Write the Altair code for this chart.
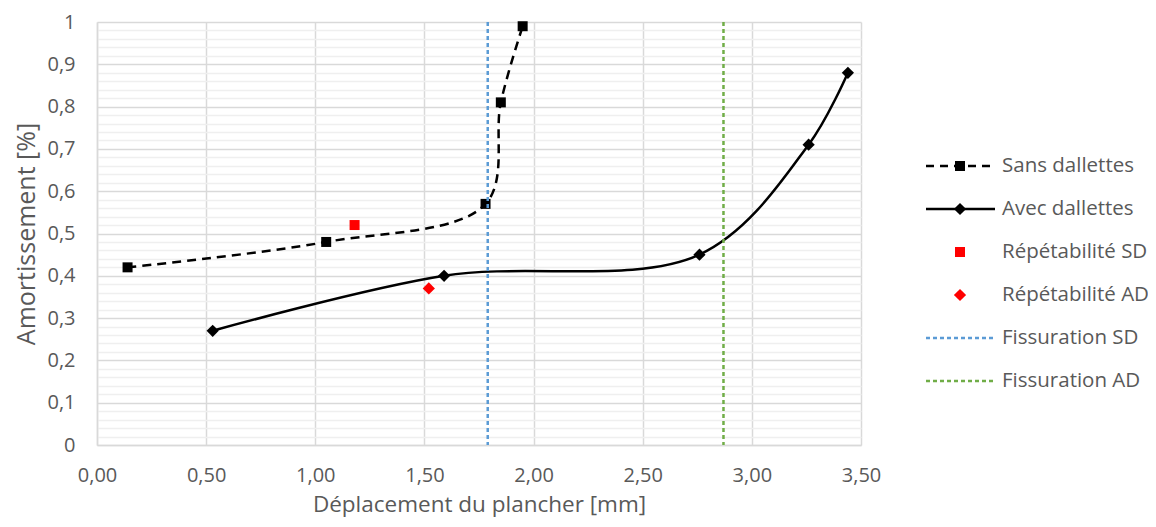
import altair as alt
import pandas as pd

# ---- data ----
sans_x = [0.14, 1.05, 1.78, 1.85, 1.95]
sans_y = [0.42, 0.48, 0.57, 0.81, 0.99]
avec_x = [0.53, 1.59, 2.76, 3.26, 3.44]
avec_y = [0.27, 0.40, 0.45, 0.71, 0.88]
rep_sd_x = [1.18]
rep_sd_y = [0.52]
rep_ad_x = [1.52]
rep_ad_y = [0.37]
fiss_sd_x = [1.79]
fiss_ad_x = [2.87]

x_ticks = [0.0, 0.5, 1.0, 1.5, 2.0, 2.5, 3.0, 3.5]
y_ticks = [0.0, 0.1, 0.2, 0.3, 0.4, 0.5, 0.6, 0.7, 0.8, 0.9, 1.0]
y_minor = [round(i * 0.02, 2) for i in range(51) if i % 5]

legend_labels = ["Sans dallettes", "Avec dallettes", "Répétabilité SD",
                 "Répétabilité AD", "Fissuration SD", "Fissuration AD"]

FONT = "Open Sans"
TXT = "#595959"
GRID = "#d9d9d9"
MINOR = "#efefef"
BLUE = "#5B9BD5"
GREEN = "#70AD47"
RED = "#FF0000"

sans = pd.DataFrame({"x": sans_x, "y": sans_y})
avec = pd.DataFrame({"x": avec_x, "y": avec_y})
rsd = pd.DataFrame({"x": rep_sd_x, "y": rep_sd_y})
rad = pd.DataFrame({"x": rep_ad_x, "y": rep_ad_y})
fsd = pd.DataFrame({"x": fiss_sd_x})
fad = pd.DataFrame({"x": fiss_ad_x})

xs = alt.Scale(domain=[0, 3.5], nice=False, zero=False)
ys = alt.Scale(domain=[0, 1], nice=False)

x_axis = alt.Axis(values=x_ticks, title="Déplacement du plancher [mm]",
                  labelExpr="replace(format(datum.value, '.2f'), '.', ',')",
                  grid=True, gridColor=GRID, gridWidth=1.5, ticks=False,
                  domainColor=GRID, domainWidth=1.5, labelPadding=20,
                  labelFlush=False, labelOverlap=False,
                  titleFontSize=22.5, titlePadding=8)
y_axis = alt.Axis(values=y_ticks, title="Amortissement [%]",
                  labelExpr="replace(format(datum.value, '.1~f'), '.', ',')",
                  grid=True, gridColor=GRID, gridWidth=1.5, ticks=False,
                  domainColor=GRID, domainWidth=1.5, labelPadding=22,
                  labelFlush=False, labelOverlap=False,
                  titleFontSize=25, titlePadding=7)
y_minor_axis = alt.Axis(values=y_minor, grid=True, gridColor=MINOR, gridWidth=1.5,
                        labels=False, ticks=False, domain=False, title=None,
                        orient="right")

X = alt.X("x:Q", scale=xs, axis=x_axis)
Y = alt.Y("y:Q", scale=ys, axis=y_axis)

# minor horizontal grid (drawn first, behind everything)
minor = alt.Chart(sans).mark_point(opacity=0).encode(
    y=alt.Y("y:Q", scale=ys, axis=y_minor_axis))

sans_line = alt.Chart(sans).mark_line(
    interpolate="catmull-rom", color="black", strokeWidth=2.5, strokeDash=[9, 6]
).encode(x=X, y=Y)
sans_pts = alt.Chart(sans).mark_point(shape="square", filled=True, size=100,
                                       color="black", opacity=1).encode(x=X, y=Y)
avec_line = alt.Chart(avec).mark_line(
    interpolate="catmull-rom", color="black", strokeWidth=2.5
).encode(x=X, y=Y)
avec_pts = alt.Chart(avec).mark_point(shape="diamond", filled=True, size=150,
                                       color="black", opacity=1).encode(x=X, y=Y)
rsd_pts = alt.Chart(rsd).mark_point(shape="square", filled=True, size=100,
                                     color=RED, opacity=1).encode(x=X, y=Y)
rad_pts = alt.Chart(rad).mark_point(shape="diamond", filled=True, size=150,
                                     color=RED, opacity=1).encode(x=X, y=Y)
fsd_rule = alt.Chart(fsd).mark_rule(color=BLUE, strokeWidth=2.5, strokeDash=[4, 3]).encode(x=X)
fad_rule = alt.Chart(fad).mark_rule(color=GREEN, strokeWidth=2.5, strokeDash=[4, 3]).encode(x=X)

main = alt.layer(sans_line, avec_line, sans_pts, avec_pts, rsd_pts,
                 rad_pts, fsd_rule, fad_rule)

# ---- manual legend ----
leg = pd.DataFrame({"label": legend_labels})
ls = alt.Scale(domain=legend_labels, type="point", range=[144, 359], padding=0)
LY = alt.Y("label:N", scale=ls, axis=None)

def leg_rule(name, color, dash=None):
    kw = dict(color=color, strokeWidth=2.5)
    if dash:
        kw["strokeDash"] = dash
    return alt.Chart(leg).transform_filter(alt.datum.label == name).mark_rule(**kw).encode(
        x=alt.value(829), x2=alt.value(898), y=LY)

def leg_pt(name, shape, color, size):
    return alt.Chart(leg).transform_filter(alt.datum.label == name).mark_point(
        shape=shape, filled=True, size=size, color=color, opacity=1).encode(
        x=alt.value(863), y=LY)

leg_text = alt.Chart(leg).mark_text(align="left", baseline="middle", font=FONT,
                                    fontSize=20.5, color=TXT).encode(
    x=alt.value(905), y=LY, text="label:N")

legend = alt.layer(
    leg_rule("Sans dallettes", "black", [8, 6]),
    leg_pt("Sans dallettes", "square", "black", 100),
    leg_rule("Avec dallettes", "black"),
    leg_pt("Avec dallettes", "diamond", "black", 150),
    leg_pt("Répétabilité SD", "square", RED, 100),
    leg_pt("Répétabilité AD", "diamond", RED, 150),
    leg_rule("Fissuration SD", BLUE, [4, 3]),
    leg_rule("Fissuration AD", GREEN, [4, 3]),
    leg_text,
)

chart = alt.layer(minor, main, legend).resolve_scale(y="independent").resolve_axis(
    y="independent").properties(
    width=764, height=423,
    autosize=alt.AutoSizeParams(type="none"),
    padding={"left": 89, "top": 14, "right": 287, "bottom": 74},
).configure_view(stroke=None).configure_axis(
    labelFont=FONT, titleFont=FONT, labelFontSize=20,
    labelColor=TXT, titleColor=TXT, titleFontWeight="normal",
)

chart.save("out.html", embed_options={"renderer": "svg", "actions": False})
